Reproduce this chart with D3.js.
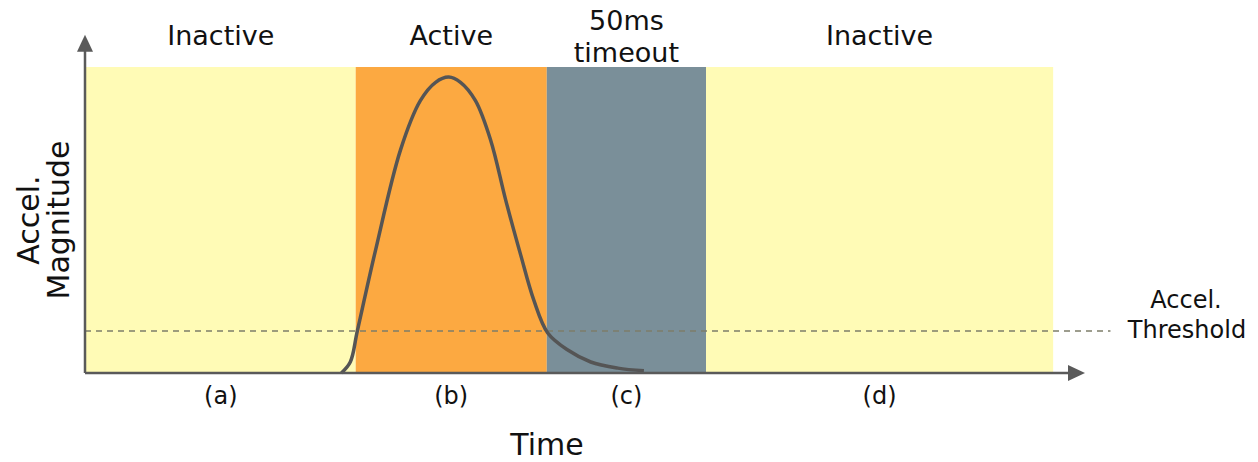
<!DOCTYPE html>
<html><head><meta charset="utf-8">
<script src="https://cdn.jsdelivr.net/npm/d3@7"></script>
<style>body{margin:0;background:#fff}svg{display:block;font-family:"DejaVu Sans",sans-serif}</style>
</head><body><svg id="c" width="1258" height="462"></svg>
<script>
// Phases (time in ms)
const phaseNames = ["Inactive", "Active", "50ms\ntimeout", "Inactive"];
const phaseLetters = ["(a)", "(b)", "(c)", "(d)"];
const phaseStart = [0.3, 85, 145, 195];
const phaseEnd = [85, 145, 195, 304];
const phaseColors = ["#fffbb6", "#fca941", "#7a8f99", "#fffbb6"];
// Acceleration curve samples
const curveT = [80.5, 83.3, 85.5, 91.2, 99.1, 105.3, 110.1, 114.2, 117.9, 122.6, 127.4, 132.1, 136.8, 140.9, 145.3, 151.6, 158.8, 167.3, 175.5];
const curveV = [0, 0.036, 0.137, 0.40, 0.73, 0.89, 0.95, 0.967, 0.95, 0.89, 0.76, 0.565, 0.386, 0.239, 0.131, 0.075, 0.036, 0.016, 0.007];
const threshold = 0.137;
const thresholdEnd = 322;
const axisMaxT = 314;
const axisMaxV = 1.105;

const svg = d3.select("#c");
const x = d3.scaleLinear().domain([0, axisMaxT]).range([85, 1085]);
const y = d3.scaleLinear().domain([0, 1]).range([373, 67]);

// phase rects
svg.selectAll("rect.phase").data(phaseStart).join("rect")
  .attr("x", (d) => x(d)).attr("y", y(1))
  .attr("width", (d, i) => x(phaseEnd[i]) - x(d))
  .attr("height", y(0.003) - y(1))
  .attr("fill", (d, i) => phaseColors[i]);

// threshold dashed line
svg.append("line").attr("x1", x(0)).attr("x2", x(thresholdEnd))
  .attr("y1", y(threshold)).attr("y2", y(threshold))
  .attr("stroke", "#7d7d6a").attr("stroke-width", 1.5).attr("stroke-dasharray", "6,5");

// curve
const pts = curveT.map((t, i) => [t, curveV[i]]);
svg.append("path").datum(pts)
  .attr("d", d3.line().x(d => x(d[0])).y(d => y(d[1])).curve(d3.curveCatmullRom.alpha(0.5)))
  .attr("fill", "none").attr("stroke", "#555555").attr("stroke-width", 3.5);

// axes
const ax = "#5a5a5a";
svg.append("g").attr("transform", `translate(0,${y(0)})`)
  .call(d3.axisBottom(x).tickValues([]).tickSizeOuter(0))
  .call(g => g.select(".domain").attr("stroke", ax).attr("stroke-width", 2.5).attr("d", `M${x(0)},0H${x(axisMaxT) - 14}`));
svg.append("g").attr("transform", `translate(${x(0)},0)`)
  .call(d3.axisLeft(y).tickValues([]).tickSizeOuter(0))
  .call(g => g.select(".domain").attr("stroke", ax).attr("stroke-width", 2.5).attr("d", `M0,${y(0)}V${y(axisMaxV) + 14}`));
// arrowheads
const xe = x(axisMaxT), ye = y(0);
svg.append("path").attr("d", `M${xe},${ye}L${xe - 17},${ye - 8}L${xe - 17},${ye + 8}Z`).attr("fill", ax);
const yt = y(axisMaxV), xa = x(0);
svg.append("path").attr("d", `M${xa},${yt}L${xa - 8},${yt + 17}L${xa + 8},${yt + 17}Z`).attr("fill", ax);

// phase titles
phaseNames.forEach((n, i) => {
  const cx = (x(phaseStart[i]) + x(phaseEnd[i])) / 2;
  const lines = n.split("\n");
  const t = svg.append("text").attr("x", cx).attr("text-anchor", "middle")
    .attr("font-size", 27).attr("fill", "#111");
  if (lines.length === 1) t.attr("y", 45).text(n);
  else lines.forEach((l, k) => t.append("tspan").attr("x", cx).attr("y", 30 + k * 32).text(l));
});
// phase letters
phaseLetters.forEach((n, i) => {
  const cx = (x(phaseStart[i]) + x(phaseEnd[i])) / 2;
  svg.append("text").attr("x", cx).attr("y", 404).attr("text-anchor", "middle")
    .attr("font-size", 24).attr("fill", "#111").text(n);
});
// axis titles
svg.append("text").attr("x", 547).attr("y", 455).attr("text-anchor", "middle")
  .attr("font-size", 30).attr("fill", "#111").text("Time");
const yl = svg.append("text").attr("transform", "translate(0,220) rotate(-90)")
  .attr("text-anchor", "middle").attr("font-size", 30).attr("fill", "#111");
yl.append("tspan").attr("x", 0).attr("y", 39).text("Accel.");
yl.append("tspan").attr("x", 0).attr("y", 69).text("Magnitude");
const tl = svg.append("text").attr("text-anchor", "middle").attr("font-size", 24).attr("fill", "#111");
tl.append("tspan").attr("x", 1186).attr("y", 308).text("Accel.");
tl.append("tspan").attr("x", 1187).attr("y", 338).text("Threshold");
</script></body></html>
